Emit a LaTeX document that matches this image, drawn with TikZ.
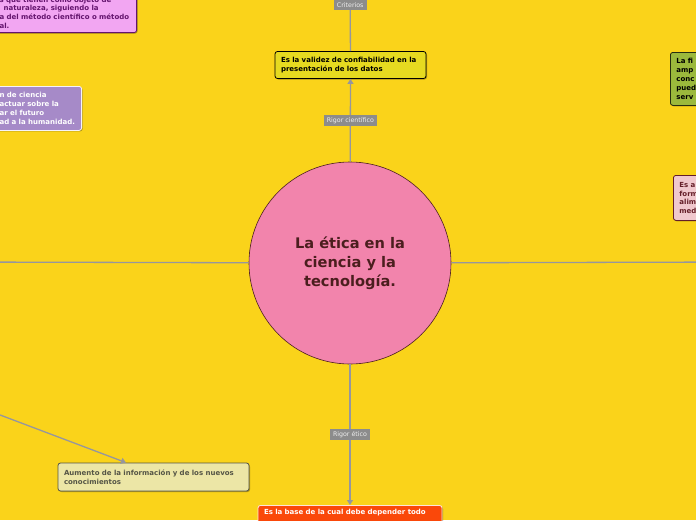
\documentclass[tikz,border=0pt]{standalone}
\usepackage{fontspec}
\setmainfont{DejaVu Sans}
\usepackage{tikz}
\usetikzlibrary{arrows.meta, calc, shadows}
\hyphenpenalty=10000
\exhyphenpenalty=10000
\definecolor{mapbg}{RGB}{250,211,26}
\definecolor{corefill}{RGB}{242,132,172}
\definecolor{coretext}{RGB}{75,30,30}
\definecolor{linkgray}{RGB}{150,150,158}
\definecolor{taggray}{RGB}{140,140,140}
\definecolor{tagtext}{RGB}{238,238,238}
\definecolor{datafill}{RGB}{230,218,32}
\definecolor{infofill}{RGB}{236,230,166}
\definecolor{infotext}{RGB}{85,85,70}
\definecolor{basefill}{RGB}{250,72,10}
\definecolor{natfill}{RGB}{242,166,242}
\definecolor{nattext}{RGB}{100,20,110}
\definecolor{humfill}{RGB}{166,138,200}
\definecolor{greenfill}{RGB}{155,185,60}
\definecolor{rosefill}{RGB}{240,200,205}
\definecolor{rosetext}{RGB}{100,30,40}

\begin{document}
\begin{tikzpicture}[
  x=1pt, y=-1pt,
  topic/.style={rectangle, rounded corners=2.5pt, draw, line width=0.8pt, align=left, inner xsep=6pt, inner ysep=4pt,
    font=\fontsize{7}{8.8}\selectfont\bfseries,
    drop shadow={shadow xshift=1pt, shadow yshift=-1pt, opacity=0.3, fill=black}},
  link/.style={draw=linkgray, line width=1.3pt},
  tag/.style={fill=taggray, text=tagtext, font=\fontsize{6.3}{7}\selectfont, inner xsep=3pt, inner ysep=2.5pt},
  tip/.style={-{Triangle[length=5pt, width=6pt]}},
]

  % Canvas
  \useasboundingbox (0,0) rectangle (696,520);
  \clip (0,0) rectangle (696,520);
  \fill[mapbg] (0,0) rectangle (696,520);

  % Central topic
  \node[circle, draw=coretext, line width=0.6pt, fill=corefill, minimum size=202pt, align=center, text=coretext,
    font=\fontsize{14.6}{19}\selectfont\bfseries] (core) at (350,263) {La ética en la\\ ciencia y la\\ tecnología.};

  % Top branch
  \node[topic, fill=datafill, draw=black, text width=139pt, minimum height=27pt] (datos) at (350.5,65)
    {Es la validez de confiabilidad en la presentación de los datos};
  \coordinate (criterios) at (350,-41);
  \draw[link, tip] (core) -- (datos) node[tag, midway] {Rigor científico};
  \draw[link] (datos) -- (criterios) node[tag, midway] {Criterios};

  % Bottom branch
  \node[topic, fill=basefill, draw=white!85!basefill, text=white, text width=172pt, text depth=20pt, anchor=north] (base) at (350,505)
    {Es la base de la cual debe depender todo};
  \draw[link, tip] (core) -- (base) node[tag, midway] {Rigor ético};

  % Side branches
  \coordinate (west) at (-40,262);
  \coordinate (east) at (740,262);
  \draw[link] (core) -- (west);
  \draw[link] (core) -- (east);

  % Lower left
  \node[topic, fill=infofill, draw=infotext, text=infotext, text width=179pt, minimum height=28pt] (aumento) at (153.5,477)
    {Aumento de la información y de los nuevos conocimientos};
  \coordinate (lowwest) at (-30,403.6);
  \draw[link, tip] (lowwest) -- ([xshift=-27.5pt]aumento.north);

  % Cut boxes on the left
  \node[topic, fill=natfill, draw=nattext, text=nattext, text width=131pt, anchor=south east] (natural) at (137,33)
    {s que tienen como objeto de\\ \hspace*{4pt}naturaleza, siguiendo la\\ a del método científico o método\\ al.};
  \node[topic, fill=humfill, draw=white!90!humfill, text=white, text width=76pt, minimum height=44pt, anchor=north east] (futuro) at (82,86)
    {n de ciencia\\ actuar sobre la\\ ar el futuro\\ ad a la humanidad.};

  % Cut boxes on the right
  \node[topic, fill=greenfill, draw=black!75!greenfill, text=black, text width=60pt, minimum height=53pt, anchor=north west] (fin) at (670,52)
    {La fi\\ amp\\ conc\\ pued\\ serv};
  \node[topic, fill=rosefill, draw=rosetext, text=rosetext, text width=60pt, minimum height=45pt, anchor=north west] (forma) at (673,175)
    {Es a\\ form\\ alim\\ med};

\end{tikzpicture}
\end{document}
